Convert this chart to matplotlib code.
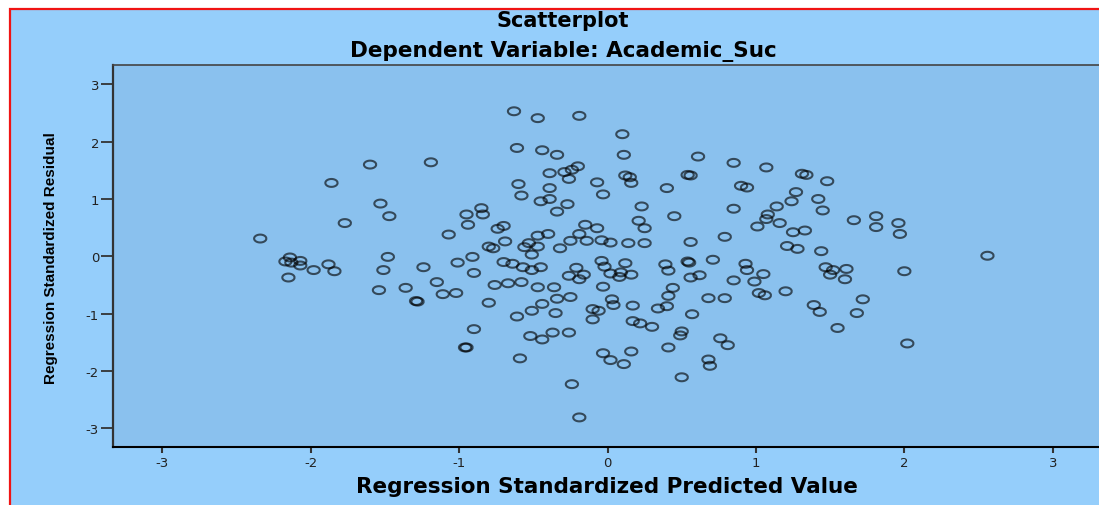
import numpy as np
import matplotlib.pyplot as plt
from matplotlib.path import Path
from matplotlib.patches import Rectangle

plt.rcParams['axes.unicode_minus'] = False

title1 = "Scatterplot"
title2 = "Dependent Variable: Academic_Suc"
xlab = "Regression Standardized Predicted Value"
ylab = "Regression Standardized Residual"
ticks = [-3, -2, -1, 0, 1, 2, 3]

pred = [-2.34, -2.14, -2.17, -2.13, -2.07, -2.07, -1.98, -1.88, -1.84, -2.15,
        -1.86, -1.60, -1.19, -1.53, -1.47, -1.77, -1.07, -0.95, -0.94, -0.85,
        -0.84, -0.80, -0.77, -0.91, -1.48,
        -1.51, -1.24, -1.01, -0.90, -1.54, -1.36, -1.29, -1.28, -1.15, -1.11,
        -1.02, -0.76, -0.80, -0.90, -0.95, -0.96,
        -0.63, -0.47, -0.19, 0.10, -0.61, -0.44, -0.34, 0.11, 0.61, 0.85,
        -0.39, -0.29, -0.24, -0.20, -0.26, 0.12, 0.15, 0.16, -0.07, 0.40,
        0.54, 0.56, 0.90, 0.94, -0.60, -0.39, -0.58, -0.45, -0.39, -0.03,
        -0.27, -0.34, 0.23, 0.45, 0.85, 0.21, 0.25, -0.70, -0.74, -0.15,
        -0.07, -0.40, -0.47, -0.19, -0.69, -0.53, -0.56, -0.47, -0.25, -0.14,
        -0.04, 0.02, 0.14, 0.25, -0.32, -0.51, 0.56, 0.79,
        -0.70, -0.64, -0.57, -0.51, -0.45, -0.21, -0.26, -0.19, -0.16, -0.04,
        -0.02, 0.12, 0.02, 0.09, 0.08, 0.16, 0.39, 0.41, 0.54, 0.55,
        0.56, 0.62, 0.71, 0.93, 0.94, 0.85, -0.67, -0.58, -0.47, -0.36,
        -0.03, 0.44, -0.61, -0.51, -0.44, -0.34, -0.25, -0.35, 0.03, 0.04,
        -0.10, -0.06, -0.10, 0.17, 0.41, 0.34, 0.40, 0.57, 0.68, 0.79,
        0.17, 0.22, 0.30, 0.50, 0.49, 0.76, 0.81, -0.52, -0.44, -0.37,
        -0.26, -0.59, -0.03, 0.02, 0.11, 0.16, 0.41, 0.68, 0.69, 0.50,
        -0.24, -0.19,
        1.07, 1.31, 1.34, 1.48, 1.27, 1.24, 1.42, 1.45, 1.14, 1.08,
        1.07, 1.16, 1.01, 1.66, 1.81, 1.81, 1.96, 1.97, 1.25, 1.33,
        1.21, 1.28, 1.44, 2.56,
        1.05, 0.99, 1.02, 1.06, 1.20, 1.47, 1.52, 1.61, 1.50, 1.60,
        2.00, 1.39, 1.43, 1.72, 1.68, 1.55, 2.02]

resid = [0.31, -0.02, -0.09, -0.11, -0.08, -0.16, -0.24, -0.14, -0.26, -0.37,
         1.28, 1.60, 1.64, 0.92, 0.70, 0.58, 0.38, 0.73, 0.55, 0.84,
         0.73, 0.17, 0.14, -0.01, -0.01,
         -0.24, -0.19, -0.11, -0.29, -0.59, -0.55, -0.78, -0.79, -0.45, -0.66,
         -0.64, -0.50, -0.81, -1.27, -1.59, -1.59,
         2.53, 2.41, 2.45, 2.13, 1.89, 1.85, 1.77, 1.77, 1.74, 1.63,
         1.45, 1.47, 1.51, 1.57, 1.35, 1.41, 1.38, 1.28, 1.29, 1.19,
         1.42, 1.41, 1.23, 1.20, 1.26, 1.19, 1.06, 0.96, 1.00, 1.08,
         0.91, 0.78, 0.87, 0.70, 0.83, 0.62, 0.49, 0.53, 0.48, 0.55,
         0.49, 0.39, 0.36, 0.39, 0.26, 0.23, 0.16, 0.17, 0.27, 0.27,
         0.28, 0.24, 0.23, 0.23, 0.14, 0.03, 0.25, 0.34,
         -0.10, -0.13, -0.19, -0.24, -0.19, -0.20, -0.34, -0.40, -0.32, -0.08,
         -0.18, -0.12, -0.30, -0.28, -0.36, -0.32, -0.14, -0.25, -0.09, -0.11,
         -0.37, -0.33, -0.06, -0.13, -0.24, -0.42, -0.47, -0.45, -0.54, -0.54,
         -0.53, -0.55, -1.05, -0.95, -0.83, -0.74, -0.71, -0.99, -0.75, -0.85,
         -0.92, -0.95, -1.10, -0.86, -0.69, -0.91, -0.87, -1.01, -0.73, -0.73,
         -1.13, -1.17, -1.23, -1.31, -1.38, -1.43, -1.55, -1.39, -1.45, -1.33,
         -1.33, -1.78, -1.69, -1.81, -1.88, -1.66, -1.59, -1.80, -1.91, -2.11,
         -2.23, -2.81,
         1.55, 1.44, 1.42, 1.31, 1.12, 0.96, 1.00, 0.80, 0.87, 0.73,
         0.65, 0.58, 0.52, 0.63, 0.70, 0.51, 0.58, 0.39, 0.42, 0.45,
         0.18, 0.13, 0.09, 0.01,
         -0.31, -0.44, -0.64, -0.68, -0.61, -0.19, -0.24, -0.22, -0.32, -0.40,
         -0.26, -0.85, -0.97, -0.75, -0.99, -1.25, -1.52]

outer = '#95CEFB'
inner = '#8AC1EE'

fig = plt.figure(figsize=(10.99, 5.06), dpi=100)
fig.patch.set_facecolor('white')
frame = Rectangle((9.5/1099, -0.1), 2, 1.1 - 9.5/506, transform=fig.transFigure,
                  facecolor=outer, edgecolor='#F01414', lw=1.6, zorder=-10)
fig.add_artist(frame)

ax = fig.add_axes([113/1099, 58/506, 988/1099, 382/506])
ax.set_zorder(1)
ax.set_facecolor(inner)

# SPSS circles come out a bit squashed in the screenshot
t = np.linspace(0, 2*np.pi, 61)
ell = Path(np.column_stack([1.55*np.cos(t), np.sin(t)]))
ax.scatter(pred, resid, marker=ell, s=8.8**2, facecolors='none',
           edgecolors=(0, 0, 0, 0.62), linewidths=1.5, zorder=3)

ax.set_xlim(-3.332, 3.325)
ax.set_ylim(-3.326, 3.337)
ax.set_xticks(ticks)
ax.set_yticks(ticks)
ax.tick_params(axis='y', length=8.5, width=1.3, color='#333333', pad=1.5,
               labelsize=9.5, labelcolor='#222222')
ax.tick_params(axis='x', length=4.5, width=1.5, color='#333333', pad=2,
               labelsize=9.5, labelcolor='#222222')
for lab in ax.get_xticklabels() + ax.get_yticklabels():
    lab.set_family('DejaVu Sans')

ax.spines['left'].set_linewidth(1.6)
ax.spines['left'].set_color('#333333')
ax.spines['bottom'].set_linewidth(1.5)
ax.spines['bottom'].set_color('black')
ax.spines['top'].set_linewidth(1.2)
ax.spines['top'].set_color('#444444')
ax.spines['right'].set_visible(False)

fig.text(563/1099, 1 - 21/506, title1, ha='center', va='center',
         fontsize=15, fontweight='bold', family='DejaVu Sans')
fig.text(563/1099, 1 - 52/506, title2, ha='center', va='center',
         fontsize=15.5, fontweight='bold', family='DejaVu Sans')
fig.text(607/1099, 1 - 487/506, xlab, ha='center', va='center',
         fontsize=15.5, fontweight='bold', family='DejaVu Sans')
fig.text(51/1099, 1 - 258/506, ylab, ha='center', va='center', rotation=90,
         fontsize=11, fontweight='bold', family='Liberation Sans')

fig.savefig('out.png', dpi=100, facecolor=fig.get_facecolor())
